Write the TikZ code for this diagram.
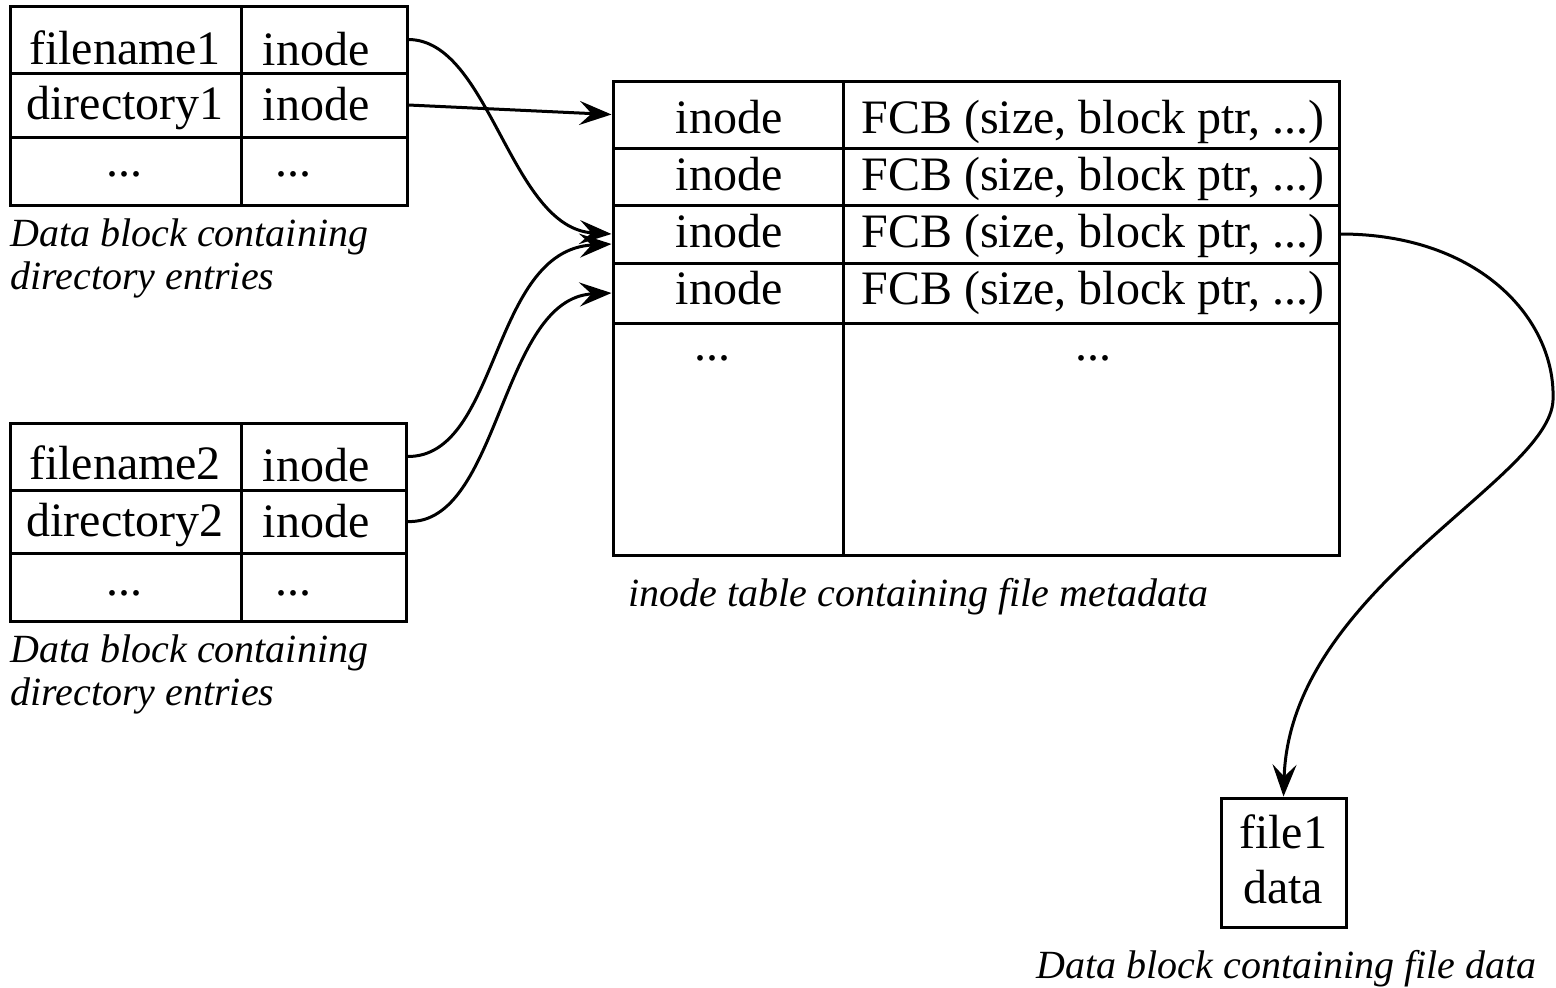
\documentclass[tikz,border=0pt]{standalone}
\usepackage{fontspec}
\setmainfont{Liberation Serif}
\usetikzlibrary{arrows.meta,fit}
\tikzset{
  cellbox/.style={draw, line width=1.5pt, inner sep=0pt},
  txt/.style={anchor=base, inner sep=0pt, font=\fontsize{24}{28}\selectfont},
  captxt/.style={anchor=base west, inner sep=0pt, font=\fontsize{20}{24}\selectfont\itshape},
  conn/.style={line width=1.5pt, -{Stealth[length=16pt, width=12pt, inset=6pt]}}
}
\begin{document}
\begin{tikzpicture}[x=0.5pt, y=-0.5pt]
\useasboundingbox (0,0) rectangle (1556,987);
% top-left directory block
\node[cellbox, fit={(10,6) (241,73)}] (a11) {};
\node[cellbox, fit={(241,6) (407,73)}] (a12) {};
\node[cellbox, fit={(10,73) (241,137)}] (a21) {};
\node[cellbox, fit={(241,73) (407,137)}] (a22) {};
\node[cellbox, fit={(10,137) (241,205)}] (a31) {};
\node[cellbox, fit={(241,137) (407,205)}] (a32) {};
\node[txt] (ta11) at (125,64) {filename1};
\node[txt] (ta12) at (316,65) {inode};
\node[txt] (ta21) at (125,119) {directory1};
\node[txt] (ta22) at (316,120) {inode};
\node[txt] (ta31) at (124,176) {...};
\node[txt] (ta32) at (293,176) {...};
\node[captxt] (capa1) at (10,246) {Data block containing};
\node[captxt] (capa2) at (10,289) {directory entries};
% bottom-left directory block
\node[cellbox, fit={(10,423) (241,490)}] (b11) {};
\node[cellbox, fit={(241,423) (406,490)}] (b12) {};
\node[cellbox, fit={(10,490) (241,553)}] (b21) {};
\node[cellbox, fit={(241,490) (406,553)}] (b22) {};
\node[cellbox, fit={(10,553) (241,621)}] (b31) {};
\node[cellbox, fit={(241,553) (406,621)}] (b32) {};
\node[txt] (tb11) at (125,479) {filename2};
\node[txt] (tb12) at (316,481) {inode};
\node[txt] (tb21) at (125,536) {directory2};
\node[txt] (tb22) at (316,537) {inode};
\node[txt] (tb31) at (124,595) {...};
\node[txt] (tb32) at (293,595) {...};
\node[captxt] (capb1) at (10,662) {Data block containing};
\node[captxt] (capb2) at (10,705) {directory entries};
% inode table
\node[cellbox, fit={(613,81) (843,148)}] (i11) {};
\node[cellbox, fit={(843,81) (1339,148)}] (i12) {};
\node[cellbox, fit={(613,148) (843,205)}] (i21) {};
\node[cellbox, fit={(843,148) (1339,205)}] (i22) {};
\node[cellbox, fit={(613,205) (843,263)}] (i31) {};
\node[cellbox, fit={(843,205) (1339,263)}] (i32) {};
\node[cellbox, fit={(613,263) (843,323)}] (i41) {};
\node[cellbox, fit={(843,263) (1339,323)}] (i42) {};
\node[cellbox, fit={(613,323) (843,555)}] (i51) {};
\node[cellbox, fit={(843,323) (1339,555)}] (i52) {};
\node[txt] (ti11) at (729,133) {inode};
\node[txt] (ti12) at (1093,133) {FCB (size, block ptr, ...)};
\node[txt] (ti21) at (729,190) {inode};
\node[txt] (ti22) at (1093,190) {FCB (size, block ptr, ...)};
\node[txt] (ti31) at (729,247) {inode};
\node[txt] (ti32) at (1093,247) {FCB (size, block ptr, ...)};
\node[txt] (ti41) at (729,304) {inode};
\node[txt] (ti42) at (1093,304) {FCB (size, block ptr, ...)};
\node[txt] (ti51) at (712,360) {...};
\node[txt] (ti52) at (1093,360) {...};
\node[captxt] (capi) at (628,606) {inode table containing file metadata};
% file data block
\node[cellbox, fit={(1221,798) (1346,927)}] (f) {};
\node[txt] (tf1) at (1283,848) {file1};
\node[txt] (tf2) at (1283,903) {data};
\node[captxt, anchor=base east] (capf) at (1537,978) {Data block containing file data};
% connectors
\draw[conn] (a12.east) .. controls (490,40) and (510,228) .. (i31.west);
\draw[conn] (a22.east) -- (i11.west);
\draw[conn] (b12.east) .. controls (500,457) and (490,250) .. ([yshift=-5pt]i31.west);
\draw[conn] (b22.east) .. controls (500,525) and (500,298) .. (i41.west);
\coordinate (bend) at (1553,400);
\draw[conn] (i32.east) .. controls (1480,234) and (1556,320) .. (bend)
  .. controls (1550,480) and (1290,590) .. (f.north);
\end{tikzpicture}
\end{document}
